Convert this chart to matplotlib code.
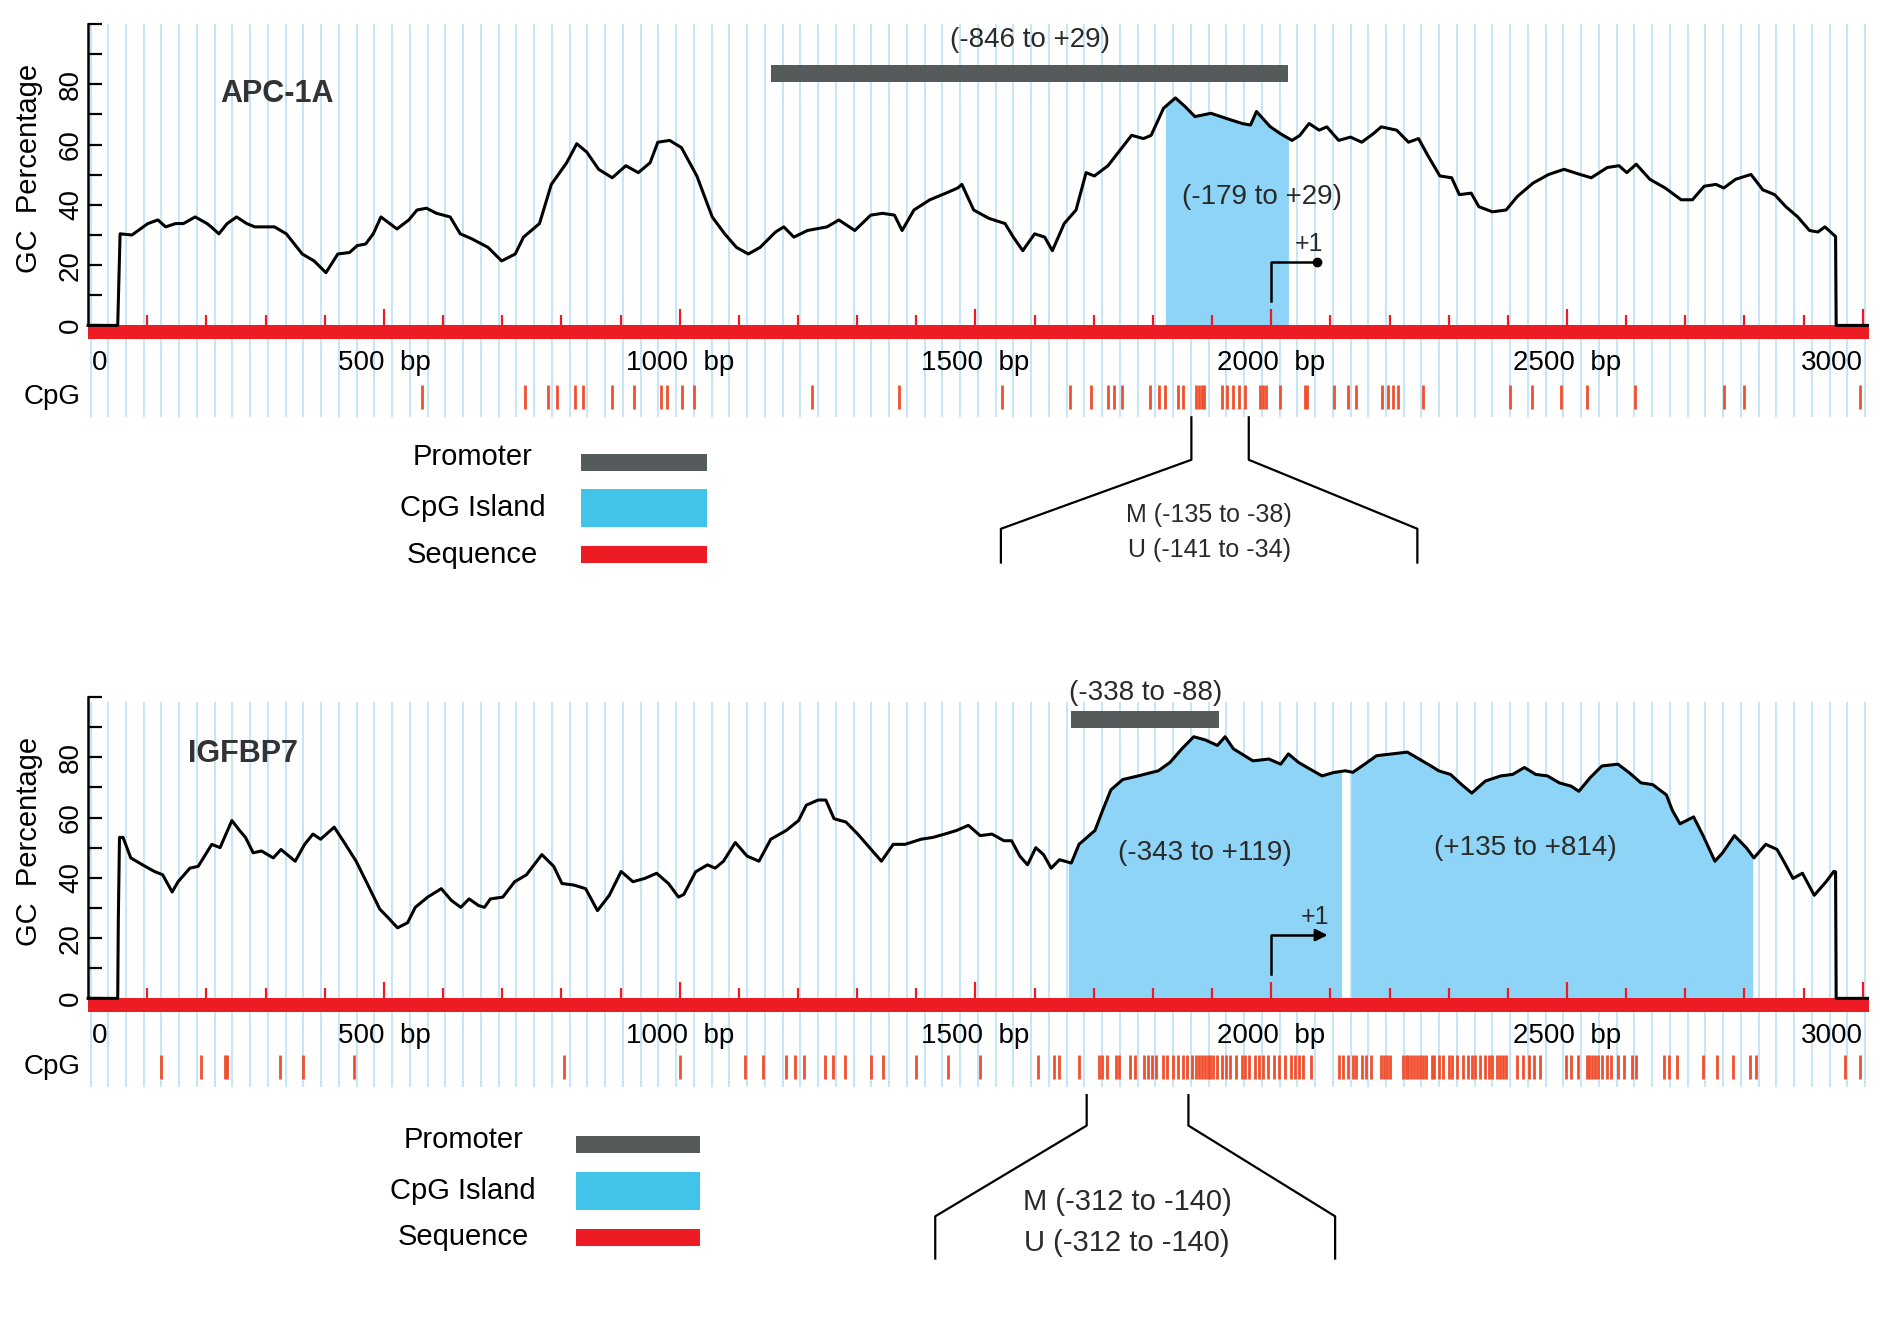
import numpy as np
import matplotlib.pyplot as plt

plt.rcParams['font.family'] = ['Liberation Sans', 'DejaVu Sans']

# ---- data ---------------------------------------------------------------
seq_len = 3000
tss_bp = 2000          # position of +1 on the bp axis

# APC-1A: GC percentage (bp, %)
apc_pos = [0, 50, 52, 54, 74, 101, 118, 131, 148, 161, 181, 201, 208, 221, 235, 251,
           268, 282, 315, 335, 362, 382, 402, 422, 442, 455, 469, 482, 495, 522, 542,
           556, 572, 589, 612, 629, 649, 676, 699, 722, 736, 763, 783, 809, 826, 843,
           863, 886, 909, 930, 950, 963, 983, 1003, 1029, 1055, 1076, 1096, 1116, 1136,
           1162, 1176, 1193, 1216, 1249, 1269, 1296, 1323, 1343, 1363, 1376, 1396, 1423,
           1450, 1470, 1477, 1497, 1523, 1550, 1564, 1580, 1600, 1617, 1630, 1650, 1670,
           1687, 1701, 1724, 1737, 1764, 1784, 1797, 1818, 1838, 1854, 1871, 1898, 1924,
           1951, 1965, 1975, 1998, 2015, 2035, 2048, 2064, 2081, 2094, 2114, 2134, 2153,
           2173, 2186, 2212, 2232, 2249, 2265, 2285, 2305, 2318, 2338, 2351, 2374, 2397,
           2416, 2443, 2469, 2495, 2522, 2541, 2568, 2588, 2601, 2617, 2640, 2666, 2693,
           2712, 2732, 2752, 2765, 2785, 2811, 2831, 2851, 2870, 2890, 2910, 2924, 2936,
           2949, 2954, 2955, 3008]
apc_gc = [0, 0, 15, 30.4, 30, 33.8, 35, 32.7, 33.8, 33.8, 36, 33.8, 32.7, 30.4, 33.8, 36,
          33.8, 32.7, 32.7, 30.4, 23.7, 21.4, 17.5, 23.7, 24.2, 26.5, 27, 30.4, 36, 32, 35,
          38.3, 38.9, 37.2, 36, 30.4, 28.7, 25.9, 21.4, 23.7, 29.3, 33.8, 46.8, 54, 60.3, 57.5,
          51.8, 49, 53, 50.7, 54, 60.8, 61.4, 59, 49.6, 36, 30.4, 25.9, 23.7, 25.9,
          31, 32.7, 29.3, 31.5, 32.7, 35, 31.5, 36.6, 37.2, 36.6, 31.5, 38.3, 41.7,
          43.9, 45.6, 46.8, 38.3, 35.5, 33.8, 29.3, 24.8, 30.4, 29.3, 24.8, 33.8, 38.3,
          50.7, 49.6, 53, 56.3, 63.1, 62, 63.1, 72.1, 75.5, 72.7, 69.3, 70.4, 68.7,
          67, 66.5, 71, 66, 63.7, 61.4, 63, 67, 64.8, 65.9, 61.4, 62.5, 60.8,
          63.7, 65.9, 64.8, 60.8, 62, 56.3, 49.6, 49, 43.4, 43.9, 39.4, 37.7, 38.3,
          42.8, 47.3, 50.1, 51.8, 50.1, 49, 52.4, 53, 50.7, 53.5, 48.5, 45.6, 41.7,
          41.7, 46.2, 46.8, 45.6, 48.5, 50.1, 45, 43.4, 39.4, 36, 31.5, 31, 32.7,
          30.4, 29.5, 0, 0]
apc_cpg = [564, 739, 778, 792, 823, 836, 885, 923, 969, 979, 1004, 1025, 1224, 1370,
           1545, 1659, 1695, 1724, 1734, 1748, 1795, 1810, 1821, 1843, 1851, 1873, 1878,
           1883, 1887, 1916, 1926, 1936, 1945, 1955, 1981, 1986, 1991, 2015, 2057, 2060,
           2106, 2130, 2144, 2188, 2198, 2205, 2215, 2256, 2403, 2440, 2489, 2534, 2615,
           2766, 2800, 2996]
apc_promoter = (-846, 29)
apc_islands = [(-179, 29)]
apc_m = (-135, -38)
apc_u = (-141, -34)

# IGFBP7
igf_pos = [0, 50, 51, 53, 59, 72, 92, 112, 126, 142, 152, 172, 186, 193, 209, 223, 243,
           256, 266, 279, 293, 313, 326, 350, 366, 380, 393, 416, 433, 453, 473, 493, 507,
           523, 540, 553, 574, 597, 614, 630, 644, 660, 670, 680, 701, 721, 741, 767, 787,
           801, 821, 841, 861, 881, 901, 921, 941, 961, 981, 998, 1007, 1027, 1047, 1060,
           1074, 1094, 1114, 1134, 1154, 1180, 1201, 1214, 1234, 1247, 1261, 1281, 1301,
           1321, 1341, 1361, 1381, 1408, 1428, 1448, 1468, 1488, 1508, 1528, 1548, 1561,
           1575, 1588, 1602, 1615, 1628, 1642, 1662, 1675, 1702, 1715, 1729, 1749, 1775,
           1809, 1829, 1849, 1869, 1889, 1909, 1922, 1936, 1969, 1996, 2016, 2029, 2046,
           2066, 2086, 2105, 2125, 2138, 2158, 2178, 2204, 2230, 2250, 2270, 2283, 2303,
           2322, 2339, 2362, 2388, 2408, 2428, 2447, 2467, 2487, 2507, 2520, 2539, 2559,
           2586, 2605, 2625, 2645, 2668, 2678, 2691, 2714, 2730, 2750, 2763, 2783, 2803,
           2816, 2836, 2855, 2868, 2882, 2898, 2918, 2938, 2951, 2954, 2955, 3008]
igf_gc = [0, 0, 26, 53.4, 53.4, 46.6, 44.3, 42.1, 41, 35.3, 38.7, 43.2, 43.8, 46, 51.1, 50, 59,
          55.7, 53.4, 48.3, 48.9, 46.6, 49.4, 45.5, 51.1, 54.5, 52.8, 56.8, 51.7, 45.5, 37.6, 29.6, 26.8,
          23.4, 25.1, 30.2, 33.6, 36.4, 32.5, 30.2, 33, 30.8, 30.2, 33, 33.6, 38.7, 41, 47.7, 43.8,
          38.1, 37.6, 36.4, 29.1, 34.2, 42.1, 38.7, 39.8, 41.5, 38.1, 33.6, 34.5, 42, 44.3, 43.2,
          45.5, 51.7, 47.2, 45.5, 52.8, 55.7, 59, 64.1, 65.8, 65.8, 59.6, 58.5, 54.5,
          50, 45.5, 51.1, 51.1, 52.8, 53.4, 54.5, 55.7, 57.4, 54, 54.5, 52.3, 52.3,
          47.2, 44.3, 50, 47.7, 43.2, 46, 44.9, 51.1, 55.7, 62.4, 69.2, 72.6, 73.8,
          75.5, 78.3, 82.8, 86.8, 85.7, 83.9, 86.8, 82.8, 78.8, 79.4, 77.7, 81.1, 78.3,
          76, 73.8, 74.9, 75.5, 75, 77.7, 80.5, 81.1, 81.7, 79.4, 77.1, 75.5, 74.3,
          70.9, 68.1, 72.1, 73.8, 74.3, 76.6, 74.3, 73.8, 71.5, 70.4, 68.7, 73.2, 77.1,
          77.7, 74.9, 71.5, 70.9, 67.5, 62.4, 57.9, 60.2, 54, 45.5, 48.3, 54, 50,
          46.6, 51.1, 49.4, 44.9, 39.8, 41.5, 34.2, 38.7, 42.1, 42, 0, 0]
igf_cpg = [124, 190, 231, 235, 324, 363, 450, 805, 1001, 1110, 1140, 1180, 1195, 1210,
           1246, 1260, 1280, 1324, 1344, 1399, 1454, 1508, 1606, 1633, 1642, 1675, 1708,
           1714, 1722, 1737, 1743, 1761, 1769, 1785, 1792, 1798, 1805, 1817, 1824, 1834,
           1843, 1850, 1858, 1866, 1873, 1878, 1883, 1888, 1893, 1897, 1902, 1908, 1916,
           1924, 1931, 1940, 1950, 1955, 1963, 1973, 1979, 1986, 1994, 2004, 2013, 2023,
           2033, 2040, 2047, 2054, 2067, 2115, 2122, 2130, 2138, 2144, 2154, 2161, 2169,
           2185, 2190, 2195, 2200, 2222, 2227, 2232, 2237, 2242, 2247, 2252, 2257, 2261,
           2271, 2275, 2283, 2290, 2300, 2306, 2314, 2324, 2332, 2339, 2345, 2353, 2361,
           2368, 2374, 2382, 2387, 2392, 2397, 2416, 2426, 2436, 2445, 2455, 2499, 2506,
           2518, 2533, 2538, 2543, 2548, 2552, 2559, 2567, 2574, 2586, 2596, 2610, 2617,
           2664, 2672, 2686, 2730, 2753, 2780, 2809, 2819, 2970, 2996]
igf_promoter = (-338, -88)
igf_islands = [(-343, 119), (135, 814)]
igf_m = (-312, -140)
igf_u = (-312, -140)

x_ticks = [0, 500, 1000, 1500, 2000, 2500, 3000]
x_labels = ['0', '500  bp', '1000  bp', '1500  bp', '2000  bp', '2500  bp', '3000']

GRID = '#b5dff5'
ISLAND = '#8ed4f6'
ISLAND_KEY = '#42c3e9'
PROMO = '#555a5a'
SEQ = '#ed1c24'
CPG = '#f0502e'
TXT = '#2a2a2a'


def draw_panel(ax, name, pos, gc, cpg, promoter, islands, m, u, lay):
    pos = np.asarray(pos, float)
    gc = np.asarray(gc, float)
    ax.set_xlim(-149, 3046)
    ax.set_ylim(*lay['ylim'])

    # background grid
    ax.vlines(np.arange(4, seq_len + 10, 30), lay['grid_lo'], lay['grid_hi'],
              color=GRID, lw=1.1, zorder=0)

    # CpG islands filled below curve
    for s, e in islands:
        xs = np.arange(tss_bp + s, tss_bp + e + 1)
        ax.fill_between(xs, 0, np.interp(xs, pos, gc), color=ISLAND, lw=0, zorder=1)
        lx = tss_bp + (s + e) / 2 + lay['isl_dx'].pop(0)
        ax.text(lx, lay['isl_y'].pop(0), '(%+d to %+d)' % (s, e) if s > 0 else '(%d to %+d)' % (s, e),
                ha='center', va='center', fontsize=20, color=TXT, zorder=4)

    # sequence bar with 100 bp ticks
    ax.broken_barh([(0, seq_len + 10)], (-4.5, 4.5), facecolor=SEQ, zorder=2)
    ticks = np.arange(100, seq_len + 1, 100)
    ax.vlines(ticks, 0, np.where(ticks % 500 == 0, 5.6, 3.4), color=SEQ, lw=1.6, zorder=2)

    # GC curve
    ax.plot(pos, gc, color='black', lw=2.2, zorder=3)

    # promoter
    p0, p1 = tss_bp + promoter[0], tss_bp + promoter[1]
    ax.broken_barh([(p0, p1 - p0)], (lay['promo_y'] - 2.8, 5.6), facecolor=PROMO, zorder=3)
    ax.text((p0 + p1) / 2, lay['promo_lbl'], '(%d to %+d)' % promoter if promoter[1] > 0
            else '(%d to %d)' % promoter, ha='center', va='center', fontsize=20, color=TXT)

    # transcription start +1
    ax.plot([tss_bp, tss_bp, tss_bp + lay['arrow_len']], [8, 21, 21], color='black', lw=1.8, zorder=4)
    if lay['dot']:
        ax.plot([tss_bp + lay['arrow_len']], [21], 'o', color='black', ms=6, zorder=4)
    else:
        ax.annotate('', xy=(tss_bp + lay['arrow_len'] + 12, 21), xytext=(tss_bp + lay['arrow_len'] - 20, 21),
                    arrowprops=dict(arrowstyle='-|>', color='black', lw=1.8, mutation_scale=18), zorder=4)
    ax.text(tss_bp + lay['arrow_len'] - 14, 27, '+1', ha='center', va='center', fontsize=18,
            color=TXT, zorder=4)

    # gene name
    ax.text(lay['name_x'], lay['name_y'], name, ha='center', va='center', fontsize=22,
            fontweight='bold', color='#333333')

    # x labels and CpG row
    for t, lbl in zip(x_ticks, x_labels):
        ha = 'left' if t == 0 else ('right' if t == seq_len else 'center')
        ax.text(t + (6 if t == 0 else 0), -12.4, lbl, ha=ha, va='center', fontsize=20)
    ax.vlines(cpg, lay['cpg_lo'], lay['cpg_hi'], color=CPG, lw=2.0, zorder=2)
    ax.text(-12, (lay['cpg_lo'] + lay['cpg_hi']) / 2, 'CpG', ha='right', va='center', fontsize=20)

    # y axis
    ax.spines['left'].set_position(('data', 0))
    ax.spines['left'].set_bounds(0, 100)
    ax.spines['left'].set_linewidth(1.8)
    for s in ('top', 'right', 'bottom'):
        ax.spines[s].set_visible(False)
    ax.set_xticks([])
    ax.set_yticks(range(0, 101, 10))
    ax.set_yticklabels([str(v) if v % 20 == 0 and v < 100 else '' for v in range(0, 101, 10)],
                       rotation=90, va='center', fontsize=20)
    ax.tick_params(axis='y', direction='in', length=10, width=1.6, pad=3)
    ax.text(-100, 52, 'GC  Percentage', rotation=90, ha='center', va='center', fontsize=21)

    # legend
    lx0, lx1 = lay['key_x']
    ky = lay['key_y']
    ax.text(lay['key_txt_x'], ky[0], 'Promoter', ha='center', va='center', fontsize=21)
    ax.broken_barh([(lx0, lx1 - lx0)], (ky[0] - 1.6 - 2.8, 5.6), facecolor=PROMO)
    ax.text(lay['key_txt_x'], ky[1], 'CpG Island', ha='center', va='center', fontsize=21)
    ax.broken_barh([(lx0, lx1 - lx0)], (ky[1] - 6.2, 12.4), facecolor=ISLAND_KEY)
    ax.text(lay['key_txt_x'], ky[2], 'Sequence', ha='center', va='center', fontsize=21)
    ax.broken_barh([(lx0, lx1 - lx0)], (ky[2] - 2.8, 5.6), facecolor=SEQ)

    # methylation-specific PCR region
    ml, mr = tss_bp + m[0], tss_bp + m[1]
    z = lay['zoom']
    ax.plot([ml, ml, z['xl'], z['xl']], z['y'], color='black', lw=1.6)
    ax.plot([mr, mr, z['xr'], z['xr']], z['y'], color='black', lw=1.6)
    mc = (z['xl'] + z['xr']) / 2 + z['dx']
    ax.text(mc, z['ty'][0], 'M (%d to %d)' % m, ha='center', va='center', fontsize=z['fs'], color=TXT)
    ax.text(mc, z['ty'][1], 'U (%d to %d)' % u, ha='center', va='center', fontsize=z['fs'], color=TXT)


fig = plt.figure(figsize=(18.9, 13.36), dpi=100)
ax1 = fig.add_axes([0, 0.5, 1, 0.5])
ax2 = fig.add_axes([0, 0, 1, 0.5])

draw_panel(ax1, 'APC-1A', apc_pos, apc_gc, apc_cpg, apc_promoter, apc_islands, apc_m, apc_u,
           dict(ylim=(-113.7, 108), grid_lo=-30.5, grid_hi=100, isl_dx=[60], isl_y=[42.6],
                promo_y=83.5, promo_lbl=94.8, arrow_len=77, dot=True, name_x=320, name_y=76.7,
                cpg_lo=-27.7, cpg_hi=-19.7, key_x=(834, 1047), key_y=(-43.8, -60.6, -76.1),
                key_txt_x=650,
                zoom=dict(xl=1543, xr=2247, y=[-30.5, -44.6, -67.5, -78.7], ty=(-63, -74.7),
                          dx=0, fs=18)))
draw_panel(ax2, 'IGFBP7', igf_pos, igf_gc, igf_cpg, igf_promoter, igf_islands, igf_m, igf_u,
           dict(ylim=(-112, 109.6), grid_lo=-29.3, grid_hi=98.4, isl_dx=[0, -45], isl_y=[48.2, 49.8],
                promo_y=92.4, promo_lbl=101.2, arrow_len=88, dot=False, name_x=261, name_y=81.1,
                cpg_lo=-26.9, cpg_hi=-18.9, key_x=(824, 1035), key_y=(-47, -63.9, -79.3),
                key_txt_x=634,
                zoom=dict(xl=1432, xr=2108, y=[-32.1, -42.2, -72.3, -86.3], ty=(-67.5, -81.1),
                          dx=-14, fs=21)))

fig.savefig('out.png', dpi=100)
